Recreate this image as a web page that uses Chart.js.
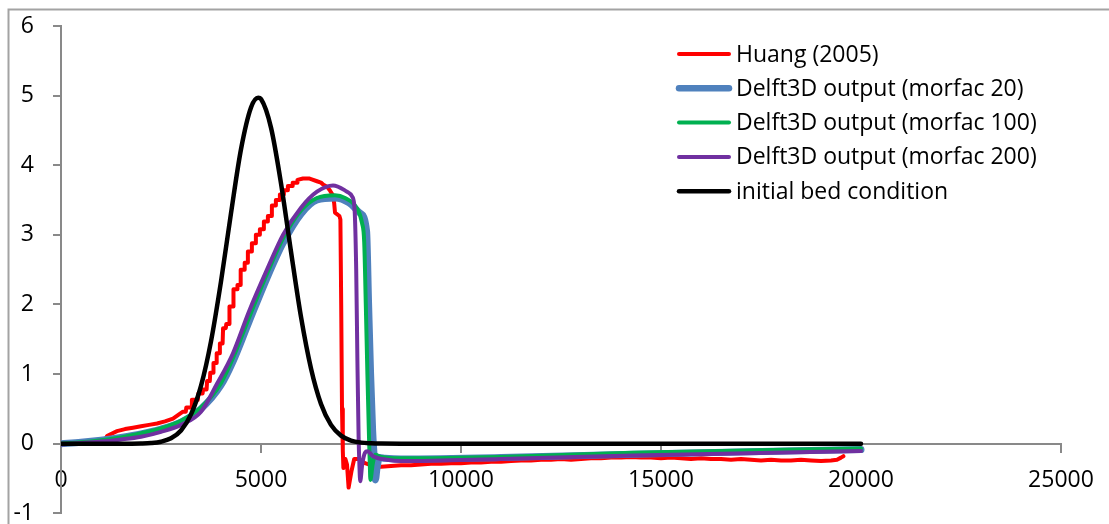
<!DOCTYPE html>
<html>
<head>
<meta charset="utf-8">
<title>Bed profile comparison</title>
<script src="https://cdn.jsdelivr.net/npm/chart.js@4.4.1/dist/chart.umd.min.js"></script>
<style>
  html, body { margin: 0; padding: 0; background: #ffffff; }
  #wrap { position: relative; width: 1109px; height: 524px; overflow: hidden; }
  canvas { display: block; }
</style>
</head>
<body>
<div id="wrap"><canvas id="chart" width="1109" height="524"></canvas></div>
<script>
// ---- data -------------------------------------------------------------
const seriesNames = [
  'Huang (2005)',
  'Delft3D output (morfac 20)',
  'Delft3D output (morfac 100)',
  'Delft3D output (morfac 200)',
  'initial bed condition'
];

const xTickValues = [0, 5000, 10000, 15000, 20000, 25000];
const xTickLabels = ['0', '5000', '10000', '15000', '20000', '25000'];
const yTickValues = [-1, 0, 1, 2, 3, 4, 5, 6];
const yTickLabels = ['-1', '0', '1', '2', '3', '4', '5', '6'];

// measured profile [x, z]
const huang = [
  [0, 0], [250, 0.01], [500, 0.01], [750, 0.02], [1000, 0.03], [1100, 0.05], [1150, 0.11],
  [1250, 0.14], [1400, 0.18], [1600, 0.21], [1800, 0.23], [2000, 0.25], [2200, 0.27],
  [2400, 0.29], [2600, 0.32], [2800, 0.36], [2950, 0.42], [3050, 0.46],
  [3120, 0.46], [3132, 0.52], [3260, 0.52], [3272, 0.63], [3420, 0.63], [3432, 0.72],
  [3540, 0.72], [3552, 0.78], [3640, 0.78], [3652, 0.90], [3720, 0.90], [3732, 1.02],
  [3800, 1.02], [3812, 1.16], [3880, 1.16], [3892, 1.30], [3960, 1.30], [3972, 1.44],
  [4040, 1.44], [4052, 1.66], [4120, 1.66], [4132, 1.72], [4200, 1.72], [4212, 1.97],
  [4300, 1.97], [4312, 2.22], [4400, 2.22], [4412, 2.28], [4480, 2.28], [4492, 2.50],
  [4580, 2.50], [4592, 2.60], [4660, 2.60], [4672, 2.76], [4760, 2.76], [4772, 2.88],
  [4860, 2.88], [4872, 3.00], [4960, 3.00], [4972, 3.08], [5060, 3.08], [5072, 3.19],
  [5160, 3.19], [5172, 3.27], [5260, 3.27], [5272, 3.42], [5360, 3.42], [5372, 3.50],
  [5460, 3.50], [5472, 3.58], [5560, 3.58], [5572, 3.64], [5660, 3.64], [5672, 3.70],
  [5780, 3.70], [5792, 3.75], [5900, 3.75], [5912, 3.79],
  [6050, 3.81], [6200, 3.81], [6250, 3.80], [6400, 3.77], [6500, 3.75], [6560, 3.72],
  [6650, 3.69], [6720, 3.64], [6760, 3.60], [6800, 3.57], [6830, 3.45], [6850, 3.32],
  [6960, 3.27], [6985, 3.22], [7005, 2.0], [7025, 0.5], [7045, -0.1], [7060, -0.35],
  [7110, -0.22], [7150, -0.30], [7190, -0.63], [7260, -0.40], [7330, -0.22], [7440, -0.22],
  [7600, -0.28], [7800, -0.32],
  [8000, -0.33], [8250, -0.32], [8500, -0.31], [8750, -0.31], [9000, -0.30], [9250, -0.29],
  [9500, -0.29], [9750, -0.28], [10000, -0.28], [10250, -0.27], [10500, -0.27], [10750, -0.26],
  [11000, -0.26], [11250, -0.25], [11500, -0.24], [11750, -0.24], [12000, -0.23], [12250, -0.23],
  [12500, -0.22], [12750, -0.23], [13000, -0.22], [13250, -0.21], [13500, -0.21], [13750, -0.20],
  [14000, -0.20], [14250, -0.19], [14500, -0.20], [14750, -0.20], [15000, -0.21], [15250, -0.20],
  [15500, -0.21], [15750, -0.22], [16000, -0.21], [16250, -0.22], [16500, -0.22], [16750, -0.23],
  [17000, -0.22], [17250, -0.23], [17500, -0.24], [17750, -0.23], [18000, -0.24], [18250, -0.24],
  [18500, -0.23], [18750, -0.24], [19000, -0.25], [19250, -0.24], [19400, -0.23], [19500, -0.20],
  [19560, -0.18]
];

// Delft3D, morfac 20
const morfac20 = [
  [0, 0], [500, 0.02], [1000, 0.05], [1500, 0.09], [2000, 0.14], [2500, 0.21], [3000, 0.31],
  [3500, 0.50], [4000, 0.84], [4300, 1.18], [4700, 1.75], [5150, 2.38], [5550, 2.88],
  [6000, 3.30], [6400, 3.50], [6850, 3.53], [7200, 3.46], [7480, 3.31], [7640, 3.05],
  [7690, 2.0], [7740, 1.0], [7790, 0.2], [7830, -0.2], [7860, -0.52], [7900, -0.35],
  [7960, -0.2], [8100, -0.21], [8500, -0.22], [11000, -0.20], [14300, -0.15], [20000, -0.085]
];

// Delft3D, morfac 100
const morfac100 = [
  [0, 0], [500, 0.02], [1000, 0.05], [1500, 0.09], [2000, 0.15], [2500, 0.22], [3000, 0.33],
  [3500, 0.52], [4000, 0.87], [4300, 1.23], [4700, 1.81], [5150, 2.44], [5550, 2.95],
  [6000, 3.35], [6400, 3.53], [6850, 3.57], [7100, 3.53], [7400, 3.38], [7525, 3.17],
  [7580, 2.9], [7620, 2.0], [7660, 1.0], [7700, 0.1], [7720, -0.3], [7735, -0.52],
  [7790, -0.3], [7860, -0.16], [8000, -0.19], [8500, -0.21], [11000, -0.19], [14300, -0.13],
  [20000, -0.07]
];

// Delft3D, morfac 200
const morfac200 = [
  [0, -0.01], [500, 0.01], [1000, 0.03], [1500, 0.06], [2000, 0.10], [2500, 0.17],
  [3000, 0.27], [3500, 0.46], [3900, 0.86], [4300, 1.30], [4700, 1.90], [5150, 2.50],
  [5550, 3.00], [6000, 3.39], [6400, 3.62], [6800, 3.71], [7150, 3.62], [7280, 3.55],
  [7340, 3.36], [7380, 2.5], [7410, 1.2], [7440, 0.1], [7460, -0.3], [7480, -0.54],
  [7530, -0.3], [7600, -0.13], [7660, -0.11], [7800, -0.18], [8150, -0.23], [8500, -0.25],
  [11000, -0.22], [14300, -0.17], [20000, -0.105]
];

// initial bed
const initialBed = [
  [0, 0], [1000, 0], [1500, 0], [2000, 0.003], [2250, 0.009], [2500, 0.028], [2750, 0.077],
  [3000, 0.19], [3250, 0.42], [3500, 0.83], [3750, 1.47], [4000, 2.33], [4250, 3.31],
  [4500, 4.23], [4750, 4.83], [4930, 4.97], [5000, 4.95], [5250, 4.54], [5500, 3.74],
  [5750, 2.76], [6000, 1.82], [6250, 1.08], [6500, 0.57], [6750, 0.27], [7000, 0.116],
  [7250, 0.044], [7500, 0.015], [7750, 0.005], [8000, 0.001], [8500, 0], [20000, 0]
];

// ---- chart ------------------------------------------------------------
const FONT = '"Open Sans", "DejaVu Sans", sans-serif';
const AXIS_GREY = '#898989';

const toPoints = (rows) => rows.map(([x, y]) => ({ x, y }));

const styles = [
  { color: '#FF0000', width: 4,   legendWidth: 4,   order: 5, smooth: false },
  { color: '#4F81BD', width: 7,   legendWidth: 6.5, order: 4, smooth: true },
  { color: '#00B050', width: 4,   legendWidth: 4,   order: 3, smooth: true },
  { color: '#7030A0', width: 4,   legendWidth: 4,   order: 2, smooth: true },
  { color: '#000000', width: 4.5, legendWidth: 4.5, order: 1, smooth: true }
];
const seriesData = [huang, morfac20, morfac100, morfac200, initialBed];

const datasets = seriesData.map((rows, i) => ({
  label: seriesNames[i],
  data: toPoints(rows),
  borderColor: styles[i].color,
  backgroundColor: styles[i].color,
  borderWidth: styles[i].width,
  legendWidth: styles[i].legendWidth,
  order: styles[i].order,
  pointRadius: 0,
  pointHoverRadius: 0,
  fill: false,
  tension: 0,
  cubicInterpolationMode: styles[i].smooth ? 'monotone' : 'default',
  borderJoinStyle: 'round',
  borderCapStyle: 'round'
}));

// outer frame around the figure
const framePlugin = {
  id: 'frame',
  beforeDraw(chart) {
    const ctx = chart.ctx;
    ctx.save();
    ctx.strokeStyle = '#a3a3a3';
    ctx.lineWidth = 2;
    ctx.beginPath();
    ctx.moveTo(8.5, chart.height + 2);
    ctx.lineTo(8.5, 9.5);
    ctx.lineTo(chart.width + 2, 9.5);
    ctx.stroke();
    ctx.restore();
  }
};

// legend inside the plot, top right
const insetLegend = {
  id: 'insetLegend',
  afterDraw(chart) {
    const ctx = chart.ctx;
    const left = 679, right = 729, textX = 736, top = 54, step = 34.3;
    ctx.save();
    ctx.font = '23px ' + FONT;
    ctx.textBaseline = 'middle';
    ctx.textAlign = 'left';
    chart.data.datasets.forEach((ds, i) => {
      const y = top + i * step;
      ctx.strokeStyle = ds.borderColor;
      ctx.lineWidth = ds.legendWidth;
      ctx.lineCap = 'round';
      ctx.beginPath();
      ctx.moveTo(left, y);
      ctx.lineTo(right, y);
      ctx.stroke();
      ctx.fillStyle = '#000000';
      ctx.fillText(ds.label, textX, y + 1);
    });
    ctx.restore();
  }
};

new Chart(document.getElementById('chart'), {
  type: 'line',
  data: { datasets },
  plugins: [framePlugin, insetLegend],
  options: {
    responsive: false,
    animation: false,
    events: [],
    devicePixelRatio: 1,
    layout: { padding: { left: 0, right: 48, top: 26, bottom: 10.7 } },
    plugins: {
      legend: { display: false },
      tooltip: { enabled: false }
    },
    scales: {
      x: {
        type: 'linear',
        position: { y: 0 },
        min: 0,
        max: 25000,
        afterBuildTicks: (s) => { s.ticks = xTickValues.map(v => ({ value: v })); },
        afterFit: (s) => { s.height = 0; s.paddingLeft = 0; s.paddingRight = 0; },
        ticks: {
          autoSkip: false,
          maxRotation: 0,
          padding: 15,
          color: '#000000',
          font: { family: FONT, size: 23 },
          callback: (v, i) => xTickLabels[i]
        },
        grid: { drawOnChartArea: false, drawTicks: true, tickLength: 8, color: AXIS_GREY, lineWidth: 2 },
        border: { display: true, color: AXIS_GREY, width: 2 }
      },
      y: {
        type: 'linear',
        position: 'left',
        min: -1,
        max: 6,
        afterBuildTicks: (s) => { s.ticks = yTickValues.map(v => ({ value: v })); },
        afterFit: (s) => { s.width = 61; s.paddingTop = 0; s.paddingBottom = 0; },
        ticks: {
          autoSkip: false,
          padding: 19,
          color: '#000000',
          font: { family: FONT, size: 23 },
          callback: (v, i) => yTickLabels[i]
        },
        grid: { drawOnChartArea: false, drawTicks: true, tickLength: 8, color: AXIS_GREY, lineWidth: 2 },
        border: { display: true, color: AXIS_GREY, width: 2 }
      }
    }
  }
});
</script>
</body>
</html>
